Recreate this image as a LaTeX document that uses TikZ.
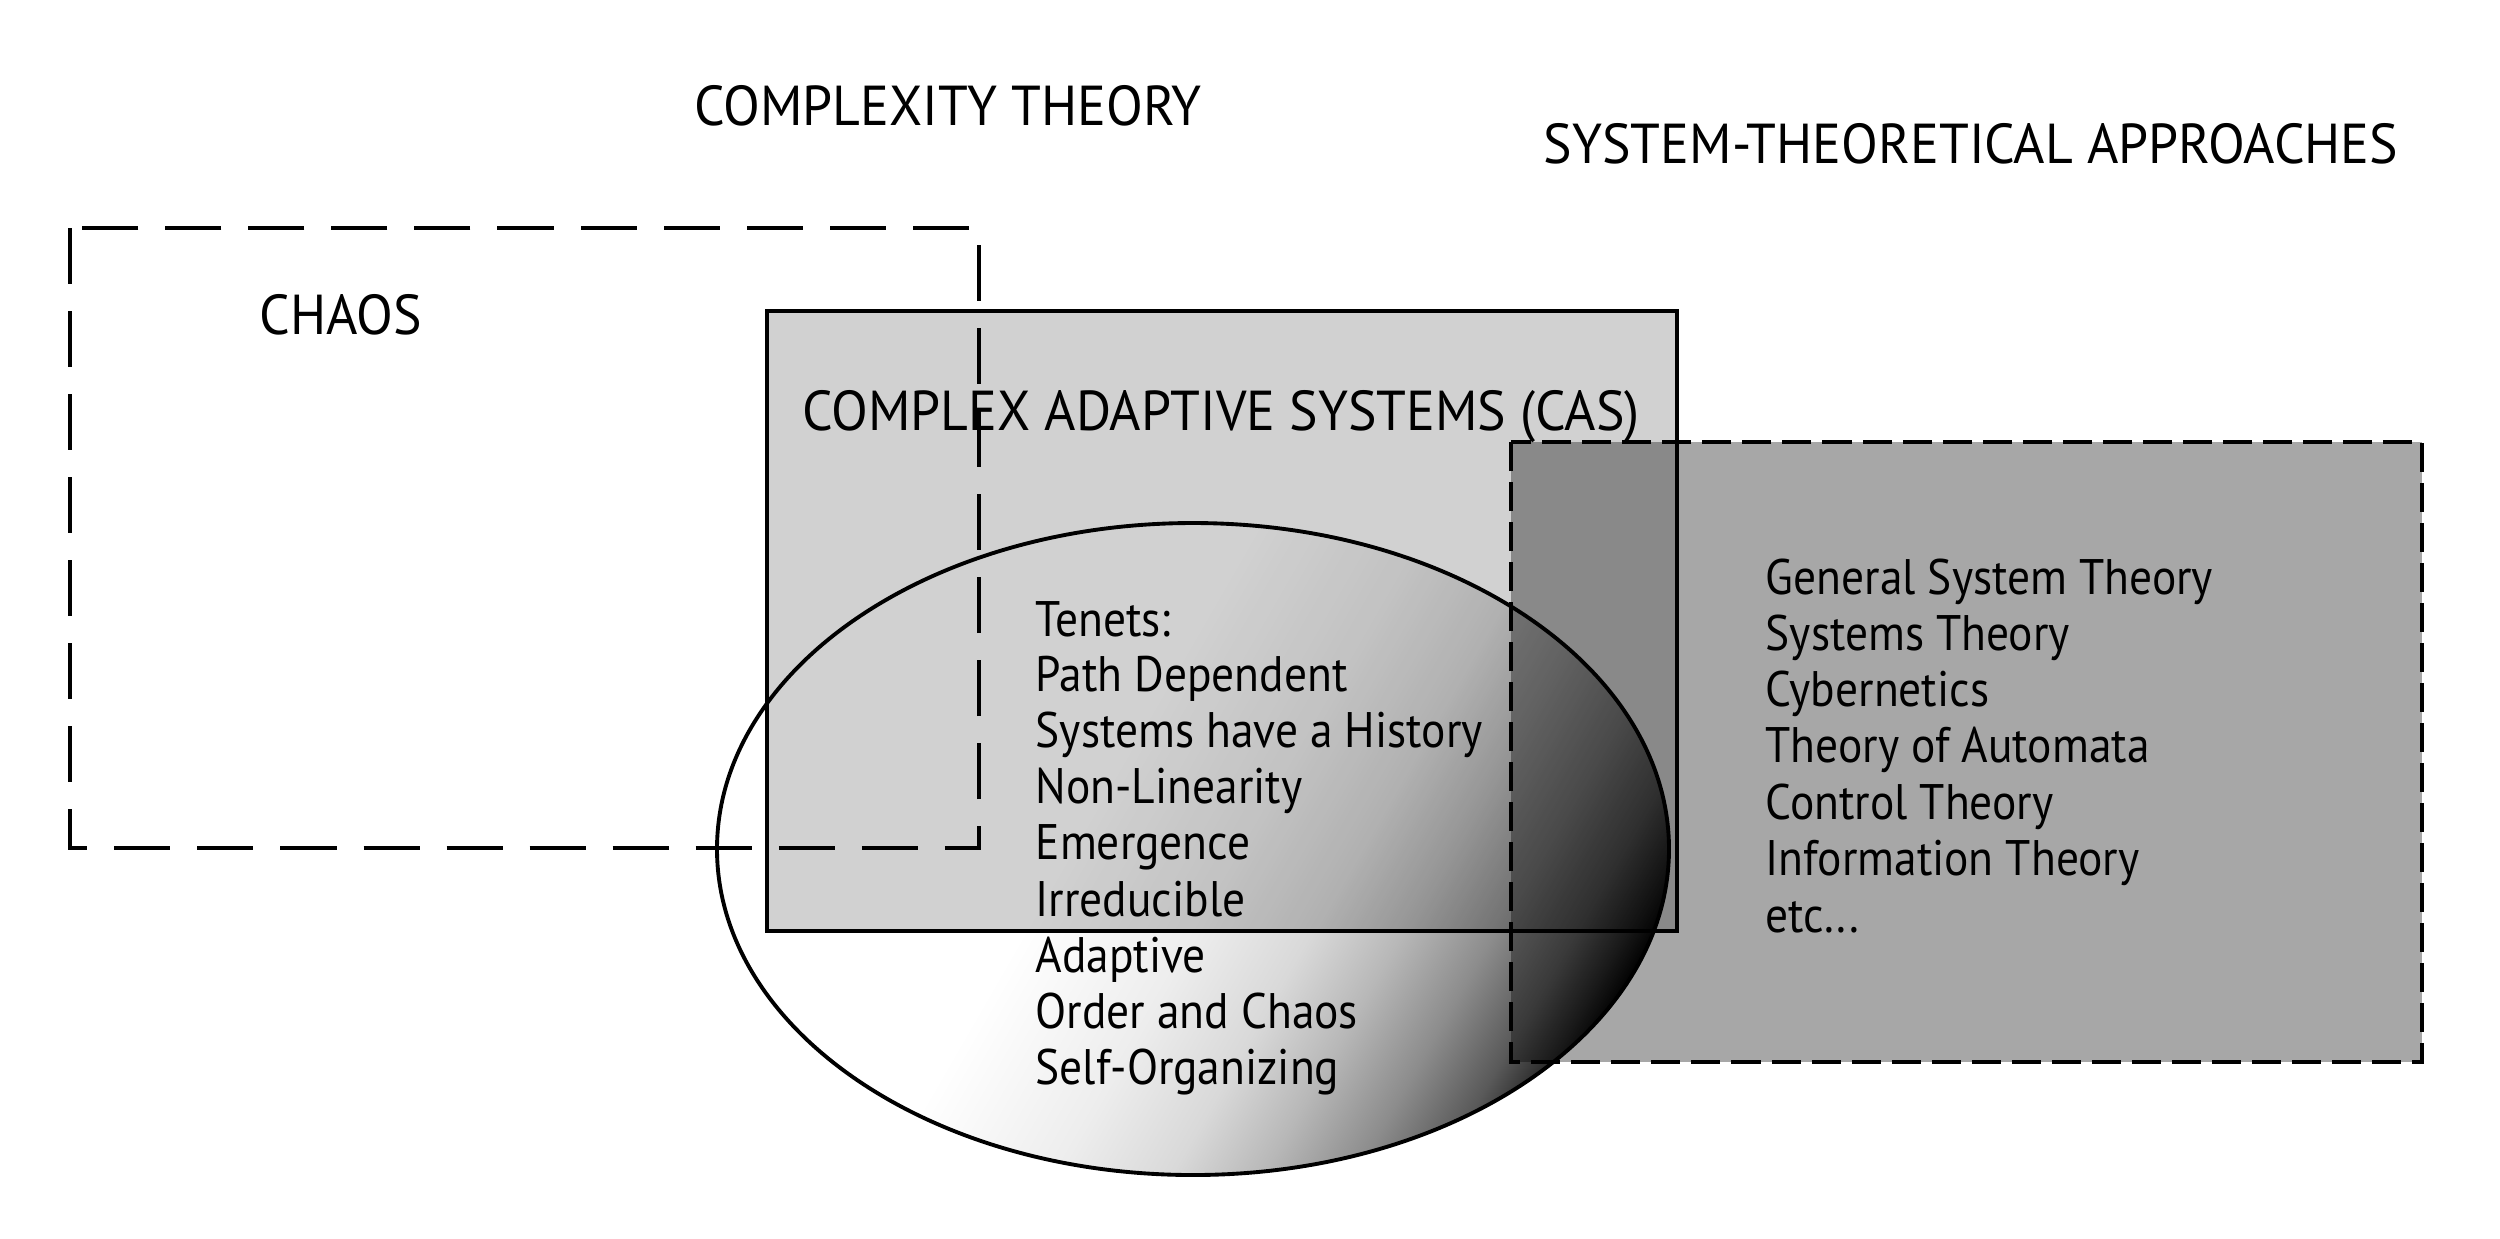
\documentclass[tikz,border=0pt]{standalone}
\usepackage{fontspec}
\setmainfont{PT Sans}
\newfontfamily\headfont{PT Sans}[FakeStretch=0.955]
\newfontfamily\listfont{PT Sans}[FakeStretch=0.91]
\pgfdeclarehorizontalshading{casaxial}{100bp}{color(0bp)=(white); color(39bp)=(white); color(43.75bp)=(black!7); color(46.9bp)=(black!15); color(49.4bp)=(black!28); color(51.9bp)=(black!45); color(54.1bp)=(black!65); color(55.5bp)=(black!85); color(56.4bp)=(black); color(100bp)=(black)}
\begin{document}
\begin{tikzpicture}[x=0.01cm,y=-0.01cm,
  outline/.style={draw=black,line width=1.1pt},
  chaosdash/.style={draw=black,line width=1.2pt,dash pattern=on 0.56cm off 0.27cm},
  sysdash/.style={draw=black,line width=1.1pt,dash pattern=on 0.29cm off 0.11cm},
  head/.style={font=\headfont\fontsize{16}{19}\selectfont,inner sep=0pt,anchor=base},
  item/.style={font=\listfont\fontsize{14.2}{17}\selectfont,inner sep=0pt,anchor=base west}]
\useasboundingbox (0,0) rectangle (2500,1238);
% ellipse gradient
\begin{scope}
\clip (1193,849) ellipse [x radius=476, y radius=326];
\shade[shading=casaxial,shading angle=-30] (600,176) rectangle (2200,1776);
\end{scope}
% translucent boxes
\fill[black,fill opacity=0.18] (767,311) rectangle (1677,931);
\fill[black,fill opacity=0.345] (1511,442) rectangle (2422,1062);
% outlines
\draw[outline] (767,311) rectangle (1677,931);
\draw[outline] (1193,849) ellipse [x radius=476, y radius=326];
\draw[chaosdash] (70,228) rectangle (979,848);
\draw[sysdash] (1511,442) rectangle (2422,1062);
% headings
\node[head] (ct) at (948,125) {COMPLEXITY THEORY};
\node[head] (st) at (1971,163) {SYSTEM-THEORETICAL APPROACHES};
\node[head] (ch) at (341,334) {CHAOS};
\node[head] (cas) at (1221,430) {COMPLEX ADAPTIVE SYSTEMS (CAS)};
% tenets
\node[item] (t0) at (1035,636) {Tenets:};
\node[item] (t1) at (1035,691) {Path Dependent};
\node[item] (t2) at (1035,747) {Systems have a History};
\node[item] (t3) at (1035,803) {Non-Linearity};
\node[item] (t4) at (1035,859) {Emergence};
\node[item] (t5) at (1035,916) {Irreducible};
\node[item] (t6) at (1035,972) {Adaptive};
\node[item] (t7) at (1035,1028) {Order and Chaos};
\node[item] (t8) at (1035,1084) {Self-Organizing};
% system theories
\node[item] (s1) at (1765,594) {General System Theory};
\node[item] (s2) at (1765,650) {Systems Theory};
\node[item] (s3) at (1765,706) {Cybernetics};
\node[item] (s4) at (1765,762) {Theory of Automata};
\node[item] (s5) at (1765,819) {Control Theory};
\node[item] (s6) at (1765,875) {Information Theory};
\node[item] (s7) at (1765,932) {etc...};
\end{tikzpicture}
\end{document}
